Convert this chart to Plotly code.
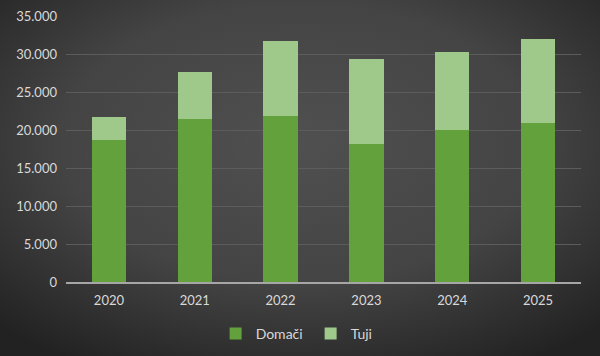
import base64
import plotly.graph_objects as go

years = ["2020", "2021", "2022", "2023", "2024", "2025"]
domaci = [18700, 21400, 21900, 18100, 20000, 20900]
tuji = [3000, 6200, 9800, 11300, 10300, 11100]
y_ticks = [0, 5000, 10000, 15000, 20000, 25000, 30000, 35000]

W, H = 600, 356
ML, MR, MT, MB = 66, 19, 16, 74
PW, PH = W - ML - MR, H - MT - MB

svg = """<svg xmlns='http://www.w3.org/2000/svg' width='600' height='356' viewBox='0 0 600 356' preserveAspectRatio='none'>
<defs><radialGradient id='g' cx='50%' cy='40%' r='72%'>
<stop offset='0%' stop-color='#505050'/>
<stop offset='55%' stop-color='#444444'/>
<stop offset='100%' stop-color='#222222'/>
</radialGradient></defs>
<rect width='600' height='356' fill='url(#g)'/></svg>"""
bg = "data:image/svg+xml;base64," + base64.b64encode(svg.encode()).decode()

fig = go.Figure()
fig.add_trace(go.Bar(x=years, y=domaci, name="Domači",
                     marker=dict(color="#62a13c", line=dict(width=0))))
fig.add_trace(go.Bar(x=years, y=tuji, name="Tuji",
                     marker=dict(color="#9fc98a", line=dict(width=0))))

font_col = "#d9d9d9"
fig.update_layout(
    width=W, height=H,
    barmode="stack", bargap=0.6,
    separators=",.",
    paper_bgcolor="#3c3c3c", plot_bgcolor="rgba(0,0,0,0)",
    margin=dict(l=ML, r=MR, t=MT, b=MB, autoexpand=False),
    font=dict(family="Lato, 'Open Sans', sans-serif", size=13, color=font_col),
    images=[dict(source=bg, xref="paper", yref="paper",
                 x=-ML / PW, y=1 + MT / PH,
                 sizex=W / PW, sizey=H / PH, sizing="stretch",
                 xanchor="left", yanchor="top", layer="below")],
    xaxis=dict(showgrid=False, showline=True, linecolor="#a6a6a6", linewidth=1.5,
               ticks="", automargin=False, ticklabelstandoff=6,
               tickfont=dict(size=13, color=font_col)),
    yaxis=dict(range=[0, 35000], tickvals=y_ticks, tickformat=",d",
               showgrid=True, gridcolor="#5c5c5c", gridwidth=1,
               zeroline=False, showline=False, ticks="", automargin=False,
               ticklabelstandoff=8,
               tickfont=dict(size=13, color=font_col)),
    legend=dict(orientation="h", x=0.475, xanchor="center",
                yref="container", y=22 / H, yanchor="middle",
                font=dict(size=14, color=font_col), bgcolor="rgba(0,0,0,0)",
                itemwidth=30, entrywidth=50, traceorder="normal"),
    showlegend=True,
)
fig.write_html("out.html", config={"displayModeBar": False},
               post_script="document.body.style.margin='0';document.body.style.background='#2a2a2a';")
